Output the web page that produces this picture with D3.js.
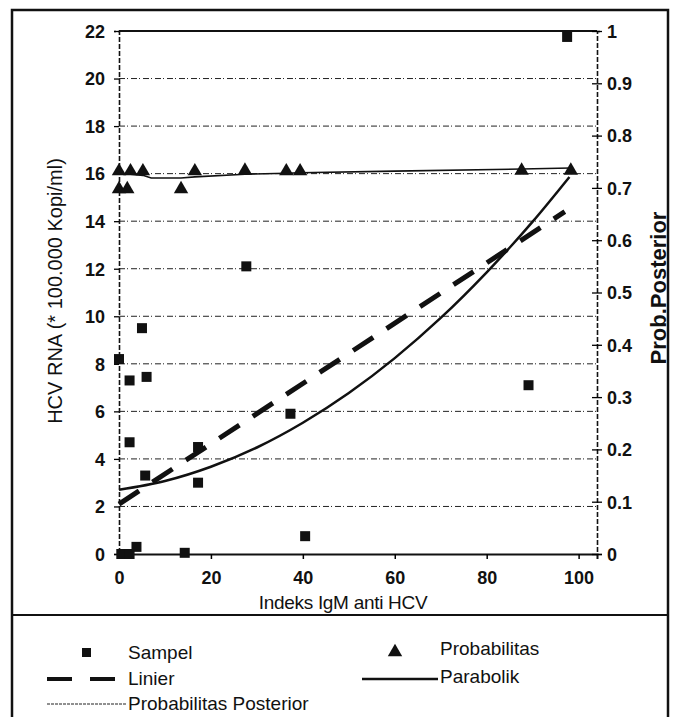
<!DOCTYPE html>
<html>
<head>
<meta charset="utf-8">
<title>HCV RNA vs Indeks IgM anti HCV</title>
<script src="https://d3js.org/d3.v7.min.js"></script>
<style>
    body { margin: 0; background: #fff; }
    svg text { font-family: "Liberation Sans", Arial, sans-serif; fill: #111; }
</style>
</head>
<body>
<svg id="chart" width="677" height="717"></svg>
<script>
// ticks
const xTicks = [0, 20, 40, 60, 80, 100];
const yTicks = [0, 2, 4, 6, 8, 10, 12, 14, 16, 18, 20, 22];
const probTicks = [0, 0.1, 0.2, 0.3, 0.4, 0.5, 0.6, 0.7, 0.8, 0.9, 1];

// Sampel (cuadrados)
const sampelX = [0, 0.5, 2.3, 3.8, 2.3, 2.3, 5, 6, 5.7, 14.3, 17.2, 17.2, 27.7, 37.3, 40.5, 89.1, 97.5];
const sampelY = [8.2, 0, 0, 0.3, 7.3, 4.7, 9.5, 7.45, 3.3, 0.05, 4.5, 3.0, 12.1, 5.9, 0.75, 7.1, 21.75];

// Probabilitas (triangulos, eje derecho)
const probX = [0, 2.5, 5.2, 0, 1.8, 13.5, 16.5, 27.4, 36.4, 39.4, 87.6, 98.3];
const probY = [0.73, 0.73, 0.73, 0.696, 0.696, 0.696, 0.73, 0.731, 0.73, 0.73, 0.731, 0.731];

// Linier
const linierX = [0, 97];
const linierY = [2.1, 14.4];

// Parabolik
const paraX = [0, 10, 20, 30, 40, 50, 60, 70, 80, 90, 98];
const paraY = [2.7, 3.07, 3.67, 4.48, 5.52, 6.77, 8.24, 9.93, 11.85, 13.98, 15.86];

// Probabilitas Posterior (eje derecho)
const postX = [0, 2.5, 5.2, 7, 13.5, 16.5, 27.4, 36.4, 39.4, 60, 87.6, 98.3];
const postY = [0.728, 0.726, 0.724, 0.719, 0.719, 0.721, 0.726, 0.728, 0.729, 0.732, 0.736, 0.738];

const svg = d3.select("#chart");

const x = d3.scaleLinear().domain([0, 104]).range([119, 597]);
const y = d3.scaleLinear().domain([0, 22]).range([554, 31]);
const yr = d3.scaleLinear().domain([0, 1]).range([554, 31]);

// marco exterior
svg.append("rect")
    .attr("x", 12).attr("y", 10)
    .attr("width", 656).attr("height", 720)
    .attr("fill", "none").attr("stroke", "#111").attr("stroke-width", 2.5);
svg.append("line")
    .attr("x1", 12).attr("x2", 668).attr("y1", 615).attr("y2", 615)
    .attr("stroke", "#111").attr("stroke-width", 2);

// lineas de cuadricula
svg.append("g")
    .selectAll("line")
    .data(yTicks.filter(d => d > 0 && d < 22))
    .join("line")
    .attr("x1", x(0)).attr("x2", x(104))
    .attr("y1", d => y(d)).attr("y2", d => y(d))
    .attr("stroke", "#222").attr("stroke-width", 1)
    .attr("stroke-dasharray", "6,2,1,3");

// borde superior
svg.append("line")
    .attr("x1", x(0)).attr("x2", x(104)).attr("y1", y(22)).attr("y2", y(22))
    .attr("stroke", "#111").attr("stroke-width", 2);

// eje x
const gx = svg.append("g")
    .attr("transform", `translate(0,${y(0)})`)
    .call(d3.axisBottom(x).tickValues(xTicks).tickSize(5).tickPadding(12));
gx.select(".domain").attr("stroke-width", 2).attr("stroke", "#111");
gx.selectAll(".tick line").attr("stroke-width", 1.5);
gx.selectAll("text").attr("font-size", 18).attr("font-weight", "bold");

// eje y izquierdo
const gy = svg.append("g")
    .attr("transform", `translate(${x(0)},0)`)
    .call(d3.axisLeft(y).tickValues(yTicks).tickSize(5).tickPadding(9));
gy.select(".domain").attr("stroke-width", 1.6).attr("stroke-dasharray", "5,2").attr("stroke", "#111");
gy.selectAll(".tick line").attr("stroke-width", 1.3);
gy.selectAll("text").attr("font-size", 18).attr("font-weight", "bold").attr("dy", "0.35em");

// eje y derecho
const gr = svg.append("g")
    .attr("transform", `translate(${x(104)},0)`)
    .call(d3.axisRight(yr).tickValues(probTicks).tickSize(5).tickPadding(5)
        .tickFormat(d => String(+d.toFixed(1))));
gr.select(".domain").attr("stroke-width", 1.6).attr("stroke-dasharray", "5,2").attr("stroke", "#111");
gr.selectAll(".tick line").attr("x1", -5).attr("stroke-width", 1.3);
gr.selectAll("text").attr("font-size", 18).attr("font-weight", "bold").attr("dy", "0.35em");

// titulos de ejes
svg.append("text")
    .attr("transform", "translate(62,291) rotate(-90)")
    .attr("text-anchor", "middle")
    .attr("font-size", 20)
    .text("HCV RNA (* 100.000 Kopi/ml)");

svg.append("text")
    .attr("transform", "translate(666,288) rotate(-90)")
    .attr("text-anchor", "middle")
    .attr("font-size", 22).attr("font-weight", "bold")
    .text("Prob.Posterior");

svg.append("text")
    .attr("x", 343).attr("y", 609)
    .attr("text-anchor", "middle")
    .attr("font-size", 19).attr("letter-spacing", -0.3)
    .text("Indeks IgM anti HCV");

// series
const sampel = sampelX.map((d, i) => [d, sampelY[i]]);
const prob = probX.map((d, i) => [d, probY[i]]);
const linier = linierX.map((d, i) => [d, linierY[i]]);
const para = paraX.map((d, i) => [d, paraY[i]]);
const post = postX.map((d, i) => [d, postY[i]]);

const lineL = d3.line().x(d => x(d[0])).y(d => y(d[1]));
const lineR = d3.line().x(d => x(d[0])).y(d => yr(d[1]));

svg.append("path")
    .datum(post)
    .attr("fill", "none").attr("stroke", "#111").attr("stroke-width", 1.6)
    .attr("d", lineR);

svg.append("path")
    .datum(para)
    .attr("fill", "none").attr("stroke", "#111").attr("stroke-width", 2.5)
    .attr("d", lineL.curve(d3.curveMonotoneX));

svg.append("path")
    .datum(linier)
    .attr("fill", "none").attr("stroke", "#111").attr("stroke-width", 5)
    .attr("stroke-dasharray", "24,16")
    .attr("d", d3.line().x(d => x(d[0])).y(d => y(d[1])));

svg.append("g")
    .selectAll("rect")
    .data(sampel)
    .join("rect")
    .attr("x", d => x(d[0]) - 5).attr("y", d => y(d[1]) - 5)
    .attr("width", 10).attr("height", 10)
    .attr("fill", "#111");

const tri = d3.symbol().type(d3.symbolTriangle).size(90);
svg.append("g")
    .selectAll("path")
    .data(prob)
    .join("path")
    .attr("transform", d => `translate(${x(d[0])},${yr(d[1]) - 1})`)
    .attr("d", tri)
    .attr("fill", "#111");

// leyenda
const leg = svg.append("g").attr("font-size", 19);

leg.append("rect").attr("x", 82).attr("y", 648).attr("width", 9).attr("height", 9).attr("fill", "#111");
leg.append("text").attr("x", 128).attr("y", 659).text("Sampel");

leg.append("path").attr("transform", "translate(395,652)").attr("d", tri).attr("fill", "#111");
leg.append("text").attr("x", 440).attr("y", 655).text("Probabilitas");

leg.append("line").attr("x1", 47).attr("x2", 115).attr("y1", 679).attr("y2", 679)
    .attr("stroke", "#111").attr("stroke-width", 4).attr("stroke-dasharray", "25,18");
leg.append("text").attr("x", 128).attr("y", 685).text("Linier");

leg.append("line").attr("x1", 362).attr("x2", 438).attr("y1", 679).attr("y2", 679)
    .attr("stroke", "#111").attr("stroke-width", 2.5);
leg.append("text").attr("x", 440).attr("y", 683).text("Parabolik");

leg.append("line").attr("x1", 47).attr("x2", 127).attr("y1", 704).attr("y2", 704)
    .attr("stroke", "#222").attr("stroke-width", 1.2).attr("stroke-dasharray", "3,1");
leg.append("text").attr("x", 128).attr("y", 710).text("Probabilitas Posterior");
</script>
</body>
</html>
